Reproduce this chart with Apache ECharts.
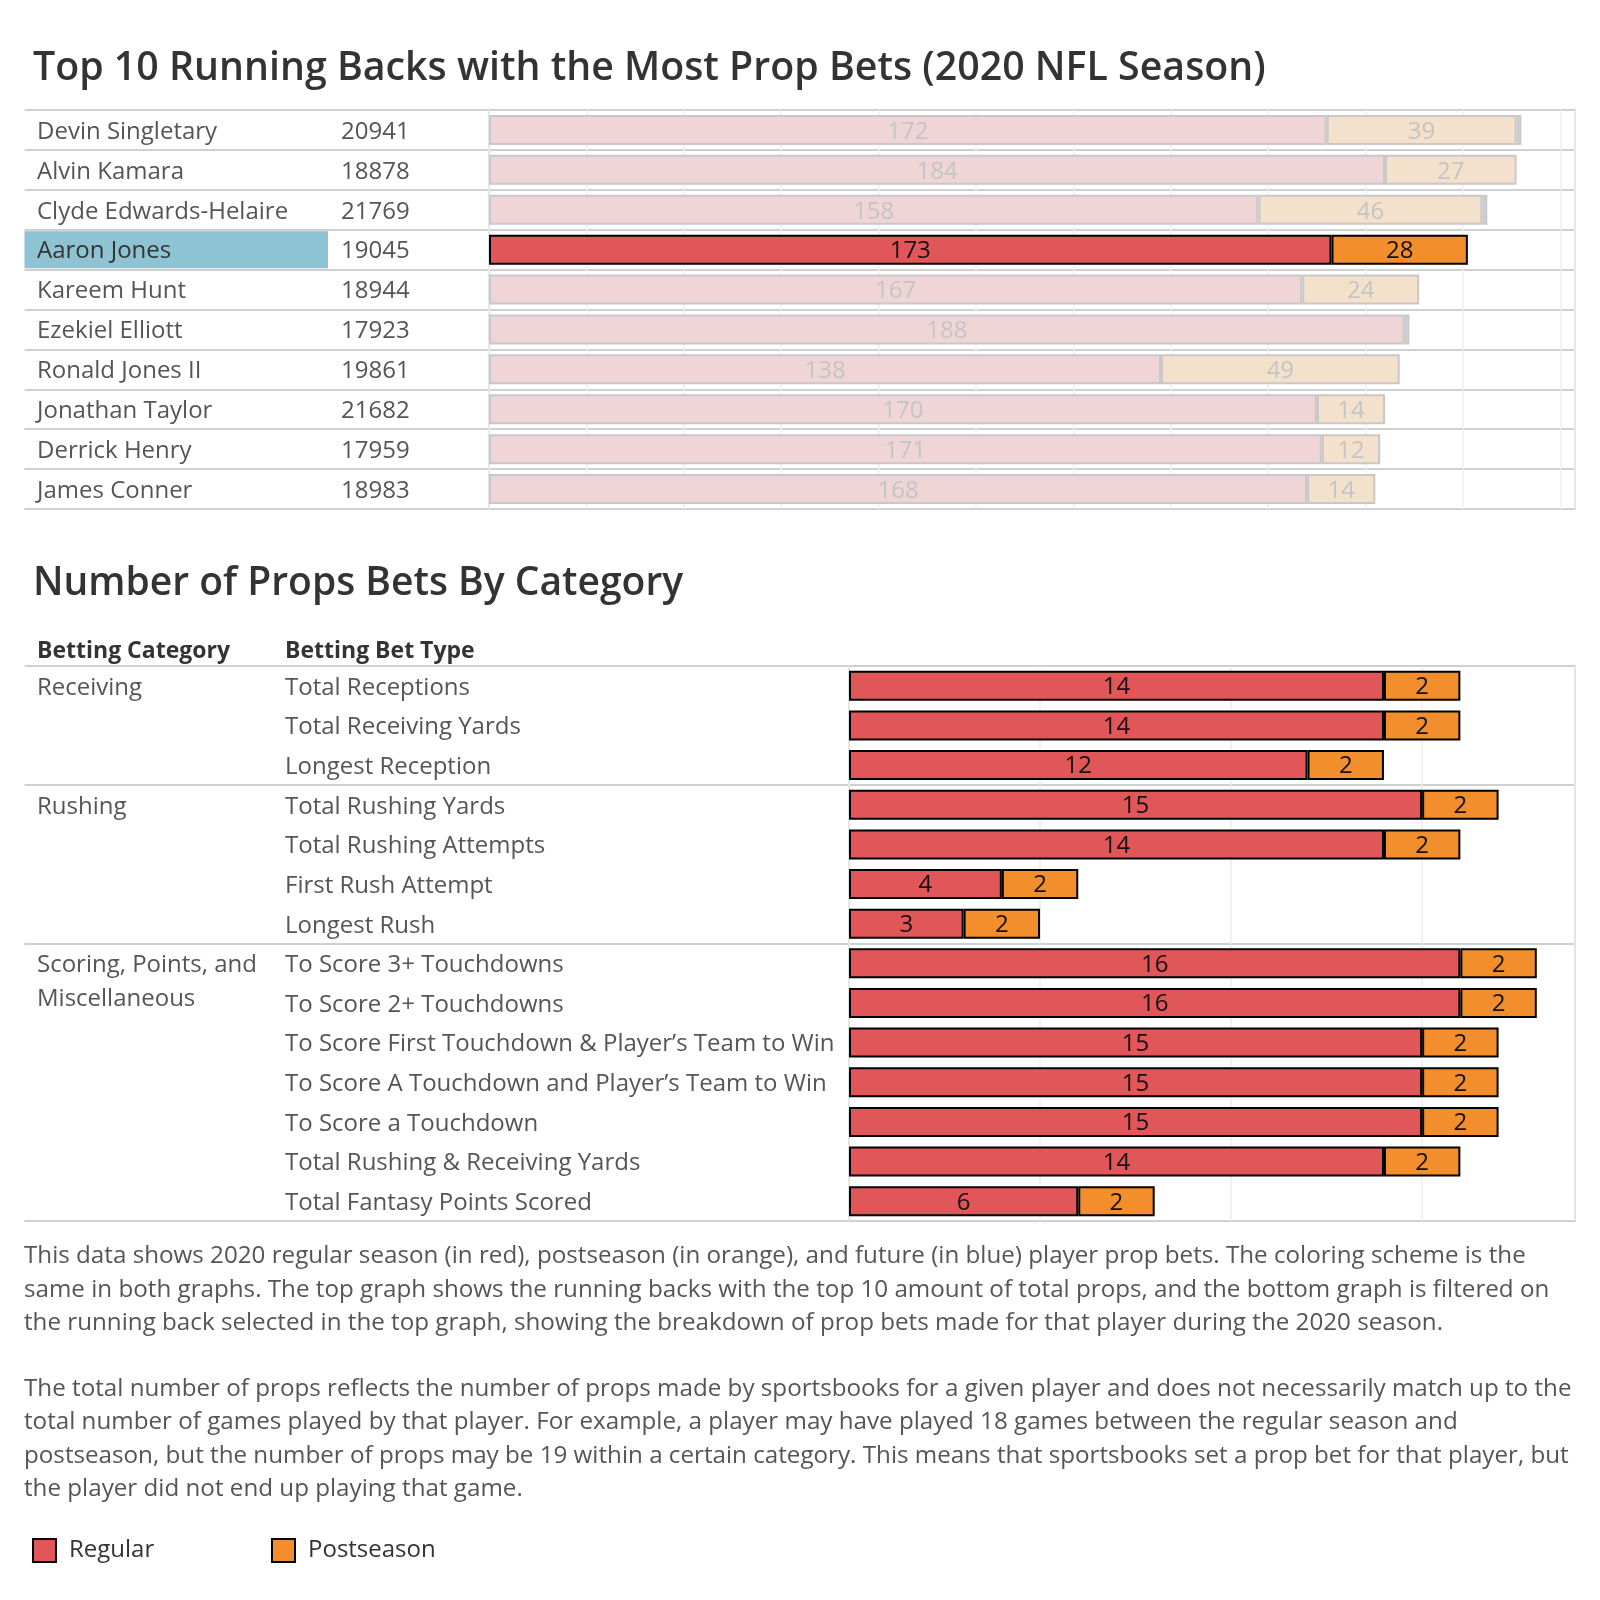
<!DOCTYPE html>
<html><head><meta charset="utf-8">
<script src="https://cdn.jsdelivr.net/npm/echarts@6/dist/echarts.min.js"></script>
<style>html,body{margin:0;padding:0;background:#fff}#c{width:1600px;height:1600px}</style>
</head><body><div id="c"></div>
<script>
// ---------- data ----------
const players = ['Devin Singletary','Alvin Kamara','Clyde Edwards-Helaire','Aaron Jones','Kareem Hunt','Ezekiel Elliott','Ronald Jones II','Jonathan Taylor','Derrick Henry','James Conner'];
const playerTotals = [20941,18878,21769,19045,18944,17923,19861,21682,17959,18983];
const playerRegular = [172,184,158,173,167,188,138,170,171,168];
const playerPost = [39,27,46,28,24,0,49,14,12,14];
const playerFuture = [1,0,1,0,0,1,0,0,0,0];
const selectedPlayer = 'Aaron Jones';

const betCategories = ['Receiving','Rushing','Scoring, Points, and\nMiscellaneous'];
const betTypes = ['Total Receptions','Total Receiving Yards','Longest Reception','Total Rushing Yards','Total Rushing Attempts','First Rush Attempt','Longest Rush','To Score 3+ Touchdowns','To Score 2+ Touchdowns','To Score First Touchdown & Player\u2019s Team to Win','To Score A Touchdown and Player\u2019s Team to Win','To Score a Touchdown','Total Rushing & Receiving Yards','Total Fantasy Points Scored'];
const betTypeCategory = [0,0,0,1,1,1,1,2,2,2,2,2,2,2];
const betRegular = [14,14,12,15,14,4,3,16,16,15,15,15,14,6];
const betPost = [2,2,2,2,2,2,2,2,2,2,2,2,2,2];

const titleTop = 'Top 10 Running Backs with the Most Prop Bets (2020 NFL Season)';
const titleBottom = 'Number of Props Bets By Category';
const headerCategory = 'Betting Category';
const headerType = 'Betting Bet Type';
const noteLines = [
  'This data shows 2020 regular season (in red), postseason (in orange), and future (in blue) player prop bets. The coloring scheme is the',
  'same in both graphs. The top graph shows the running backs with the top 10 amount of total props, and the bottom graph is filtered on',
  'the running back selected in the top graph, showing the breakdown of prop bets made for that player during the 2020 season.',
  '',
  'The total number of props reflects the number of props made by sportsbooks for a given player and does not necessarily match up to the',
  'total number of games played by that player. For example, a player may have played 18 games between the regular season and',
  'postseason, but the number of props may be 19 within a certain category. This means that sportsbooks set a prop bet for that player, but',
  'the player did not end up playing that game.'
];

// ---------- styles ----------
const FONT = '"Open Sans", "Noto Sans", sans-serif';
const FS = 24;
const RED = '#E15759', ORANGE = '#F28E2B', BLUE = '#4E79A7';
const RED_F = '#F0D5D6', ORANGE_F = '#F3E1CC', BLUE_F = '#CFDAE2';
const LINE = '#d0d0d0';

function topItems(vals, fill, fillSel, showLabel) {
  return vals.map((v, i) => {
    const sel = players[i] === selectedPlayer;
    return {
      value: v,
      itemStyle: { color: sel ? fillSel : fill, borderColor: sel ? '#000' : '#c8c8c8', borderWidth: v ? 2 : 0 },
      label: { show: showLabel && v > 0, color: sel ? '#111' : '#c4c4c4' }
    };
  });
}

function categoryLabel(v, i) {
  if (!(i === 0 || betTypeCategory[i] !== betTypeCategory[i - 1])) return '';
  const lines = betCategories[betTypeCategory[i]].split('\n');
  const rows = ['\u00a0'].concat(lines);
  while (rows.length < 3) rows.push('\u00a0');
  return rows.map(r => '{c|' + r + '}').join('\n');
}

const chart = echarts.init(document.getElementById('c'), null, { renderer: 'canvas' });
const labelBase = { show: true, position: 'inside', fontSize: FS, fontFamily: FONT, offset: [0, 2] };
const legendCommon = {
  top: 1538, padding: 0, icon: 'rect', itemWidth: 23, itemHeight: 23, itemGap: 10, selectedMode: false,
  textStyle: { fontFamily: FONT, fontSize: FS, color: '#333', padding: [0, 0, 0, 8] }
};

const option = {
  animation: false,
  backgroundColor: '#fff',
  title: [
    { text: titleTop, left: 33, top: 47, padding: 0, textStyle: { fontSize: 39.3, fontWeight: 600, color: '#333', fontFamily: FONT, lineHeight: 44 } },
    { text: titleBottom, left: 33, top: 562, padding: 0, textStyle: { fontSize: 39, fontWeight: 600, color: '#333', fontFamily: FONT, lineHeight: 44 } },
    { text: headerCategory, left: 37, top: 637, padding: 0, textStyle: { fontSize: 23, fontWeight: 'bold', color: '#333', fontFamily: FONT, lineHeight: 28 } },
    { text: headerType, left: 285, top: 637, padding: 0, textStyle: { fontSize: 23, fontWeight: 'bold', color: '#333', fontFamily: FONT, lineHeight: 28 } },
    { text: noteLines.join('\n'), left: 24, top: 1240, padding: 0, textStyle: { fontSize: 24.2, fontWeight: 'normal', color: '#555', fontFamily: FONT, lineHeight: 33.2 } }
  ],
  legend: [
    Object.assign({ data: ['Regular'], left: 32 }, legendCommon),
    Object.assign({ data: ['Postseason'], left: 271 }, legendCommon)
  ],
  grid: [
    { left: 24.5, right: 25, top: 110, height: 399, outerBoundsMode: 'none' },
    { left: 489, right: 25, top: 110, height: 399, show: true, borderColor: LINE, borderWidth: 2, backgroundColor: 'transparent', outerBoundsMode: 'none' },
    { left: 24.5, right: 25, top: 666, height: 555, outerBoundsMode: 'none' },
    { left: 849, right: 25, top: 666, height: 555, show: true, borderColor: LINE, borderWidth: 2, backgroundColor: 'transparent', outerBoundsMode: 'none' }
  ],
  xAxis: [
    { gridIndex: 0, type: 'value', min: 0, max: 1, show: false },
    { gridIndex: 1, type: 'value', min: 0, max: 223, interval: 20,
      axisLine: { show: false }, axisTick: { show: false }, axisLabel: { show: false },
      splitLine: { show: true, lineStyle: { color: '#efefef', width: 1.5 } } },
    { gridIndex: 2, type: 'value', min: 0, max: 1, show: false },
    { gridIndex: 3, type: 'value', min: 0, max: 19, interval: 5,
      axisLine: { show: false }, axisTick: { show: false }, axisLabel: { show: false },
      splitLine: { show: true, lineStyle: { color: '#ececec', width: 1.5 } } }
  ],
  yAxis: [
    { gridIndex: 0, type: 'category', data: players, inverse: true,
      axisLine: { show: false }, axisTick: { show: false },
      splitLine: { show: true, lineStyle: { color: LINE, width: 2 } },
      axisLabel: {
        show: true, interval: 0, align: 'left', margin: 0, fontFamily: FONT, fontSize: FS,
        formatter: (v, i) => (v === selectedPlayer ? '{sel|' + v + '}' : '{nm|' + v + '}') + '{num|' + playerTotals[i] + '}',
        rich: {
          nm: { fontFamily: FONT, fontSize: FS, color: '#555', width: 291, padding: [4, 0, 0, 12.5], lineHeight: 33, height: 33 },
          sel: { fontFamily: FONT, fontSize: FS, color: '#333', width: 291, padding: [4, 0, 0, 12.5], lineHeight: 33, height: 33, backgroundColor: '#8DC3D3' },
          num: { fontFamily: FONT, fontSize: FS, color: '#555', padding: [4, 0, 0, 13], lineHeight: 33, height: 33 }
        }
      } },
    { gridIndex: 1, type: 'category', data: players, inverse: true,
      axisLine: { show: false }, axisTick: { show: false }, axisLabel: { show: false }, splitLine: { show: false } },
    { gridIndex: 2, type: 'category', data: betTypes, inverse: true,
      axisLine: { show: false }, axisTick: { show: false }, axisLabel: { show: false },
      splitLine: { show: true, interval: (i) => i === 0 || betTypeCategory[i] !== betTypeCategory[i - 1], lineStyle: { color: LINE, width: 2 } } },
    { gridIndex: 3, type: 'category', data: betTypes, inverse: true,
      axisLine: { show: false }, axisTick: { show: false }, splitLine: { show: false },
      axisLabel: { show: true, interval: 0, align: 'left', margin: 564, fontFamily: FONT, fontSize: FS, color: '#555',
        formatter: (v) => '{t|' + v + '}',
        rich: { t: { fontFamily: FONT, fontSize: FS, color: '#555', padding: [4, 0, 0, 0], lineHeight: 33, height: 33 } } } },
    { gridIndex: 3, type: 'category', data: betTypes, inverse: true, position: 'left',
      axisLine: { show: false }, axisTick: { show: false }, splitLine: { show: false },
      axisLabel: { show: true, interval: 0, align: 'left', margin: 812, fontFamily: FONT, fontSize: FS, color: '#555',
        formatter: categoryLabel,
        rich: { c: { fontFamily: FONT, fontSize: FS, color: '#555', padding: [4, 0, 0, 0], lineHeight: 34, height: 34 } } } }
  ],
  series: [
    { name: 'Top Regular', type: 'bar', stack: 'top', xAxisIndex: 1, yAxisIndex: 1, barWidth: 30,
      label: labelBase, data: topItems(playerRegular, RED_F, RED, true) },
    { name: 'Top Postseason', type: 'bar', stack: 'top', xAxisIndex: 1, yAxisIndex: 1, barWidth: 30,
      label: labelBase, data: topItems(playerPost, ORANGE_F, ORANGE, true) },
    { name: 'Top Future', type: 'bar', stack: 'top', xAxisIndex: 1, yAxisIndex: 1, barWidth: 30,
      label: { show: false }, data: topItems(playerFuture, BLUE_F, BLUE, false) },
    { name: 'Regular', type: 'bar', stack: 'bottom', xAxisIndex: 3, yAxisIndex: 3, barWidth: 30,
      itemStyle: { color: RED, borderColor: '#000', borderWidth: 2 },
      label: { show: true, position: 'inside', fontSize: FS, fontFamily: FONT, color: '#111', offset: [0, 1.5] },
      data: betRegular },
    { name: 'Postseason', type: 'bar', stack: 'bottom', xAxisIndex: 3, yAxisIndex: 3, barWidth: 30,
      itemStyle: { color: ORANGE, borderColor: '#000', borderWidth: 2 },
      label: { show: true, position: 'inside', fontSize: FS, fontFamily: FONT, color: '#111', offset: [0, 1.5] },
      data: betPost }
  ]
};
chart.setOption(option);
</script></body></html>
